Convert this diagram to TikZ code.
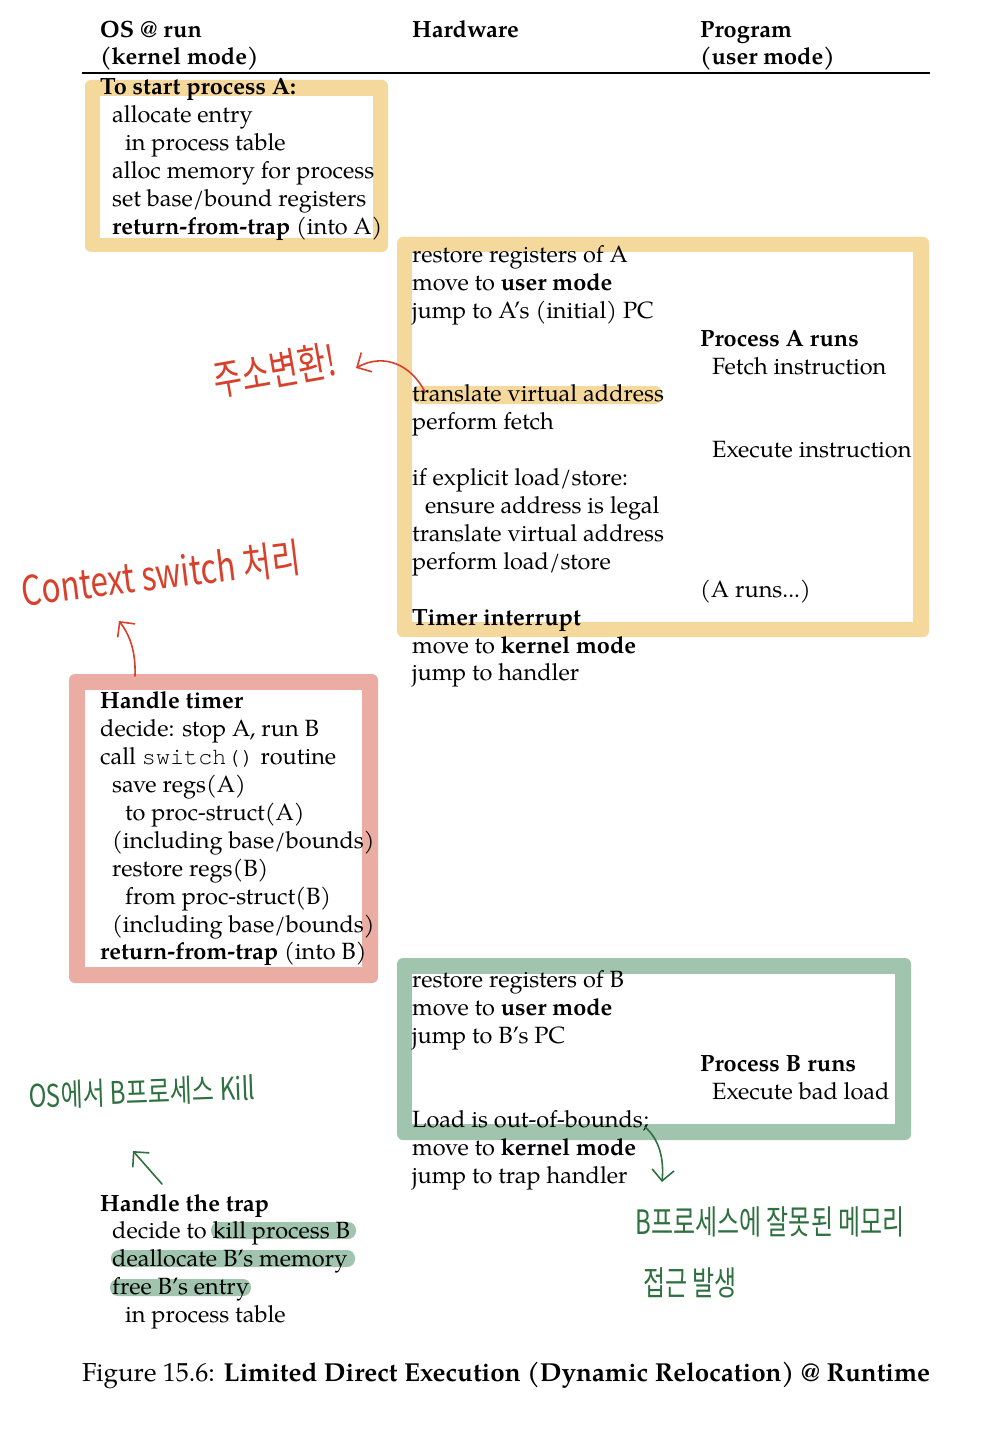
\documentclass[tikz,border=0pt]{standalone}
\usepackage{fontspec}
\setmainfont{texgyrepagella-regular.otf}[BoldFont=texgyrepagella-bold.otf, ItalicFont=texgyrepagella-italic.otf]
\setmonofont{texgyrecursor-regular.otf}
\newfontfamily\krfont{Noto Sans CJK KR}
\usetikzlibrary{arrows.meta}
\definecolor{obox}{HTML}{F5D89B}
\definecolor{rbox}{HTML}{EBADA3}
\definecolor{gbox}{HTML}{A0C4AE}
\definecolor{hred}{HTML}{D9402B}
\definecolor{hgreen}{HTML}{2E7040}
\begin{document}
\begin{tikzpicture}[x=1pt,y=-1pt,
  txt/.style={anchor=base west, inner sep=0pt, font=\fontsize{23.5}{28}\selectfont},
  btxt/.style={txt, font=\fontsize{23.5}{28}\selectfont\bfseries},
  hand/.style={inner sep=0pt, font=\krfont\fontsize{#1}{#1}\selectfont},
  redhand/.style={hand=#1, text=hred},
  greenhand/.style={hand=#1, text=hgreen},
  harrow/.style={line width=1.6pt, line cap=round, line join=round, -{Straight Barb[length=11pt, width=22pt, line width=1.6pt]}},
]
\useasboundingbox (0,0) rectangle (981,1431);
\fill[white] (0,0) rectangle (981,1431);

% ---- boxes ----
\fill[obox, rounded corners=6pt] (85,80) rectangle (388,252);
\fill[white] (100,96) rectangle (373,238);
\fill[obox, rounded corners=6pt] (397,237) rectangle (929,637);
\fill[white] (412,252) rectangle (913,622);
\fill[rbox, rounded corners=6pt] (69,674) rectangle (378,983);
\fill[white] (85,690) rectangle (362,967);
\fill[gbox, rounded corners=6pt] (397,958) rectangle (911,1140);
\fill[white] (412,974) rectangle (895,1124);

% ---- highlights ----
\fill[obox, rounded corners=7pt] (412,386) rectangle (662,404);
\fill[gbox, rounded corners=8pt] (211,1222) rectangle (356,1239);
\fill[gbox, rounded corners=8pt] (111,1250) rectangle (355,1267);
\fill[gbox, rounded corners=8pt] (110,1279) rectangle (251,1296);

% ---- header ----
\node[btxt] (h1a) at (100,38) {OS @ run};
\node[btxt] (h1b) at (100,65) {(kernel mode)};
\node[btxt] (h2) at (412,38) {Hardware};
\node[btxt] (h3a) at (700,38) {Program};
\node[btxt] (h3b) at (700,65) {(user mode)};
\draw[line width=1.3pt] (82,73) -- (930,73);

% ---- rows ----
\node[btxt] (r0) at (100,{95+27.9*0}) {To start process A:};
\node[txt] (r1) at (112,{95+27.9*1}) {allocate entry};
\node[txt] (r2) at (125,{95+27.9*2}) {in process table};
\node[txt] (r3) at (112,{95+27.9*3}) {alloc memory for process};
\node[txt] (r4) at (112,{95+27.9*4}) {set base/bound registers};
\node[txt] (r5) at (112,{95+27.9*5}) {\textbf{return-from-trap} (into A)};
\node[txt] (r6) at (412,{95+27.9*6}) {restore registers of A};
\node[txt] (r7) at (412,{95+27.9*7}) {move to \textbf{user mode}};
\node[txt] (r8) at (412,{95+27.9*8}) {jump to A’s (initial) PC};
\node[btxt] (r9) at (700,{95+27.9*9}) {Process A runs};
\node[txt] (r10) at (712,{95+27.9*10}) {Fetch instruction};
\node[txt] (r11) at (412,{95+27.9*11}) {translate virtual address};
\node[txt] (r12) at (412,{95+27.9*12}) {perform fetch};
\node[txt] (r13) at (712,{95+27.9*13}) {Execute instruction};
\node[txt] (r14) at (412,{95+27.9*14}) {if explicit load/store:};
\node[txt] (r15) at (425,{95+27.9*15}) {ensure address is legal};
\node[txt] (r16) at (412,{95+27.9*16}) {translate virtual address};
\node[txt] (r17) at (412,{95+27.9*17}) {perform load/store};
\node[txt] (r18) at (700,{95+27.9*18}) {(A runs...)};
\node[btxt] (r19) at (412,{95+27.9*19}) {Timer interrupt};
\node[txt] (r20) at (412,{95+27.9*20}) {move to \textbf{kernel mode}};
\node[txt] (r21) at (412,{95+27.9*21}) {jump to handler};
\node[btxt] (r22) at (100,{95+27.9*22}) {Handle timer};
\node[txt] (r23) at (100,{95+27.9*23}) {decide: stop A, run B};
\node[txt] (r24) at (100,{95+27.9*24}) {call \texttt{switch()} routine};
\node[txt] (r25) at (112,{95+27.9*25}) {save regs(A)};
\node[txt] (r26) at (125,{95+27.9*26}) {to proc-struct(A)};
\node[txt] (r27) at (112,{95+27.9*27}) {(including base/bounds)};
\node[txt] (r28) at (112,{95+27.9*28}) {restore regs(B)};
\node[txt] (r29) at (125,{95+27.9*29}) {from proc-struct(B)};
\node[txt] (r30) at (112,{95+27.9*30}) {(including base/bounds)};
\node[txt] (r31) at (100,{95+27.9*31}) {\textbf{return-from-trap} (into B)};
\node[txt] (r32) at (412,{95+27.9*32}) {restore registers of B};
\node[txt] (r33) at (412,{95+27.9*33}) {move to \textbf{user mode}};
\node[txt] (r34) at (412,{95+27.9*34}) {jump to B’s PC};
\node[btxt] (r35) at (700,{95+27.9*35}) {Process B runs};
\node[txt] (r36) at (712,{95+27.9*36}) {Execute bad load};
\node[txt] (r37) at (412,{95+27.9*37}) {Load is out-of-bounds;};
\node[txt] (r38) at (412,{95+27.9*38}) {move to \textbf{kernel mode}};
\node[txt] (r39) at (412,{95+27.9*39}) {jump to trap handler};
\node[btxt] (r40) at (100,{95+27.9*40}) {Handle the trap};
\node[txt] (r41) at (112,{95+27.9*41}) {decide to kill process B};
\node[txt] (r42) at (112,{95+27.9*42}) {deallocate B’s memory};
\node[txt] (r43) at (112,{95+27.9*43}) {free B’s entry};
\node[txt] (r44) at (125,{95+27.9*44}) {in process table};

% ---- caption ----
\node[txt, font=\fontsize{26}{30}\selectfont] (cap) at (82,1381) {Figure 15.6: \textbf{Limited Direct Execution (Dynamic Relocation) @ Runtime}};

% ---- handwritten notes ----
\node[redhand=31, rotate=10, yscale=1.35] (n1) at (275,370) {주소변환!};
\node[redhand=31.5, rotate=7, yscale=1.3] (n2) at (161,574) {Context switch 처리};
\node[greenhand=24, rotate=2, yscale=1.3] (n3) at (142,1092) {OS에서 B프로세스 Kill};
\node[greenhand=24, yscale=1.4] (n4) at (770,1222) {B프로세스에 잘못된 메모리};
\node[greenhand=24, yscale=1.4] (n5) at (690,1283) {접근 발생};

\coordinate (a1s) at (425,392);
\coordinate (a1e) at (356,368);
\coordinate (a2s) at (135,676);
\coordinate (a2e) at (119,621);
\coordinate (a3s) at (162,1184);
\coordinate (a3e) at (133,1151);
\coordinate (a4s) at (645,1127);
\coordinate (a4e) at (662,1182);
\draw[harrow, hred] (a1s) .. controls (412,366) and (385,352) .. (a1e);
\draw[harrow, hred] (a2s) .. controls (136,650) and (129,634) .. (a2e);
\draw[harrow, hgreen] (a3s) -- (a3e);
\draw[harrow, hgreen] (a4s) .. controls (660,1140) and (664,1160) .. (a4e);
\end{tikzpicture}
\end{document}
